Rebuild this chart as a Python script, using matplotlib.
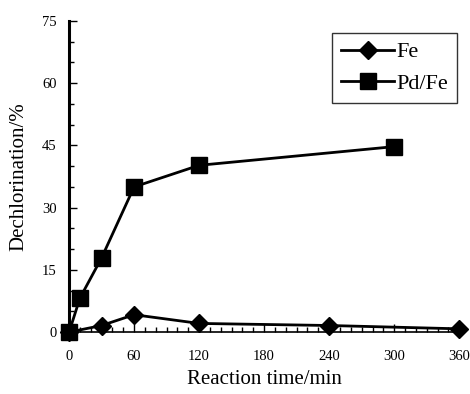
import matplotlib.pyplot as plt
from matplotlib.ticker import MultipleLocator

# -------------------------
# DATA
# -------------------------
fe_time = [0, 30, 60, 120, 240, 360]
fe_dechl = [0, 1.6, 4.2, 2.1, 1.6, 0.8]

pdfe_time = [0, 10, 30, 60, 120, 300]
pdfe_dechl = [0, 8.2, 17.9, 35.0, 40.2, 44.7]

x_ticks = [0, 60, 120, 180, 240, 300, 360]
y_ticks = [0, 15, 30, 45, 60, 75]

# -------------------------
# PLOT
# -------------------------
plt.rcParams["font.family"] = ["Liberation Serif", "DejaVu Serif"]

fig = plt.figure(figsize=(4.7, 3.94), dpi=100)
ax = fig.add_axes([0.147, 0.157, 0.83, 0.79])

ax.plot(fe_time, fe_dechl, color="black", lw=2, marker="D",
        markersize=9, label="Fe", clip_on=False, zorder=3)
ax.plot(pdfe_time, pdfe_dechl, color="black", lw=2, marker="s",
        markersize=11, label="Pd/Fe", clip_on=False, zorder=3)

ax.set_xlim(0, 360)
ax.set_ylim(0, 75)
ax.set_xticks(x_ticks)
ax.set_yticks(y_ticks)
ax.xaxis.set_minor_locator(MultipleLocator(10))
ax.yaxis.set_minor_locator(MultipleLocator(5))

ax.spines["top"].set_visible(False)
ax.spines["right"].set_visible(False)
ax.spines["left"].set_linewidth(2.2)
ax.spines["bottom"].set_linewidth(1.2)

ax.tick_params(which="both", direction="in", labelsize=10.5, width=1)
ax.tick_params(which="major", length=6)
ax.tick_params(which="minor", length=3.5)
ax.tick_params(axis="x", which="major", pad=13)
ax.tick_params(axis="y", which="major", pad=9)

ax.set_xlabel("Reaction time/min", fontsize=15, labelpad=5)
ax.set_ylabel("Dechlorination/%", fontsize=15, labelpad=10)

leg = ax.legend(loc="upper right", bbox_to_anchor=(0.995, 0.961), fontsize=16,
                borderaxespad=0, frameon=True, fancybox=False,
                edgecolor="black", handlelength=2.4, borderpad=0.4,
                labelspacing=0.5, handletextpad=0.1)
leg.get_frame().set_linewidth(1)

plt.savefig("out.png", dpi=100)
